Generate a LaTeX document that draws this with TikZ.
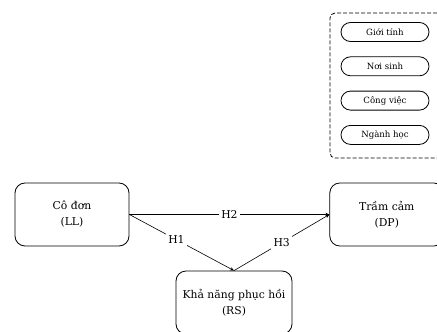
\documentclass[tikz,border=0pt]{standalone}
\usepackage{fontspec}
\setmainfont{DejaVu Serif}
\usepackage{tikz}
\usetikzlibrary{arrows.meta,positioning}

\begin{document}
\begin{tikzpicture}[
    x=1pt, y=-1pt,
    mainbox/.style={draw, thick, rounded corners=10pt,
                    minimum width=114pt, minimum height=63pt,
                    align=center, font=\fontsize{10.8}{16}\selectfont},
    pill/.style={draw, thick, rounded corners=9.5pt,
                 minimum width=88pt, minimum height=19pt,
                 inner sep=0pt, font=\fontsize{8.6}{9}\selectfont},
    ctrlbox/.style={draw, thick, dash pattern=on 4pt off 2pt,
                    rounded corners=5pt,
                    minimum width=112pt, minimum height=145pt},
    arrow/.style={-{Stealth[length=4pt,width=3.5pt]}, semithick},
    hlabel/.style={fill=white, inner sep=2.5pt, font=\fontsize{10.8}{11}\selectfont},
  ]

  \useasboundingbox (0,0) rectangle (437,332);

  % control variables
  \node[ctrlbox] (ctrl) at (386,85.5) {};
  \node[pill] (gioitinh) at (385,32) {Giới tính};
  \node[pill, below=14.5pt of gioitinh] (noisinh) {Nơi sinh};
  \node[pill, below=14.5pt of noisinh] (congviec) {Công việc};
  \node[pill, below=14.5pt of congviec] (nganhhoc) {Ngành học};

  % main constructs
  \node[mainbox] (ll) at (72,214.5) {Cô đơn\\(LL)};
  \node[mainbox, right=200pt of ll] (dp) {Trầm cảm\\(DP)};
  \node[mainbox, minimum width=116pt] (rs) at (234,302.5)
      {Khả năng phục hồi\\(RS)};

  % H2: LL -> DP
  \draw[arrow] (ll.east) -- node[hlabel] {H2} (dp.west);

  % H1: LL -> RS
  \draw[arrow] (ll.east) -- node[hlabel, pos=0.45] {H1} (rs.north);

  % H3: RS -> DP
  \draw[arrow] (rs.north) -- node[hlabel, pos=0.5] {H3} (dp.west);

\end{tikzpicture}
\end{document}
